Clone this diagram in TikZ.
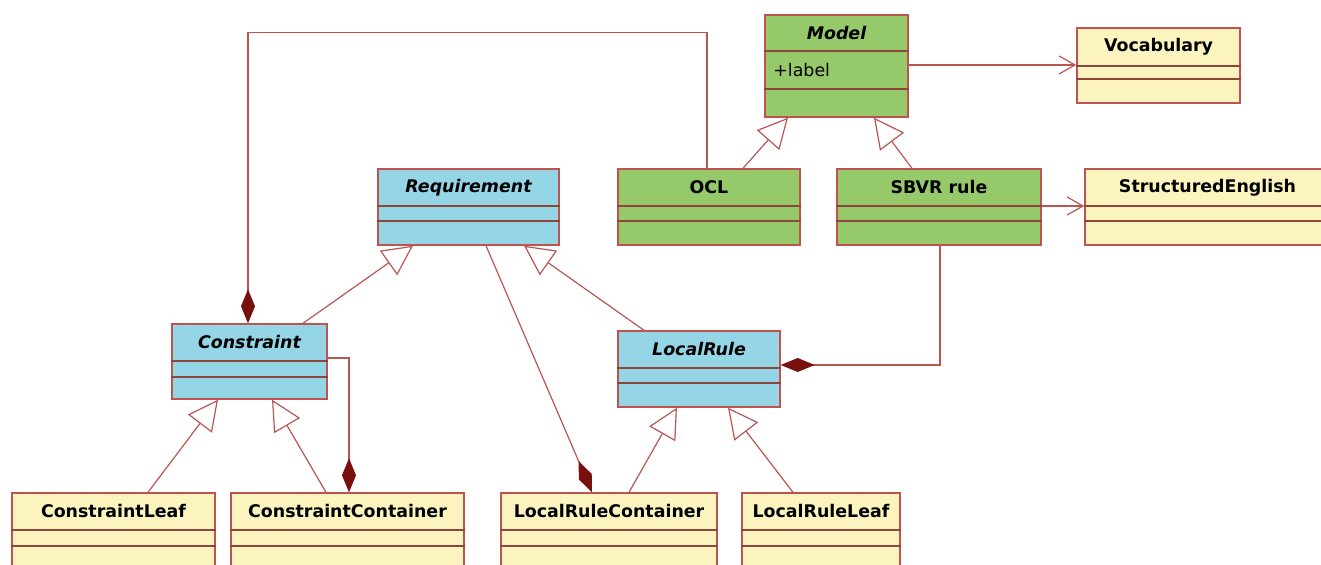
\documentclass[tikz,border=0pt]{standalone}
\usepackage{fontspec}
\setmainfont{DejaVu Sans}
\usetikzlibrary{arrows.meta,fit}

\definecolor{umlline}{RGB}{186,86,82}
\definecolor{umlborder}{RGB}{192,82,80}
\definecolor{umldivider}{RGB}{140,70,60}
\definecolor{umldiamond}{RGB}{120,16,16}
\definecolor{umlgreen}{RGB}{150,201,106}
\definecolor{umlblue}{RGB}{148,213,230}
\definecolor{umlyellow}{RGB}{251,244,190}

\tikzset{
  classbox/.style={draw=umlborder, line width=0.7pt, inner sep=0pt},
  classname/.style={font=\bfseries\fontsize{8.7}{10}\selectfont, inner sep=0pt},
  attribute/.style={font=\fontsize{8.7}{10}\selectfont, inner sep=0pt},
  divider/.style={draw=umldivider, line width=0.6pt},
  link/.style={draw=umlline, line width=0.6pt},
  generalize/.style={link, -{Triangle[length=15pt,width=15pt,fill=white]}},
  compose/.style={link, -{Diamond[length=17pt,width=7pt,color=umldiamond,fill=umldiamond]}},
  navigate/.style={link, -{Straight Barb[length=8pt,width=9pt]}},
}

% name, fill, title, x1, y1, x2, y2, first divider, second divider
\newcommand{\umlclass}[9]{%
  \node[classbox, fill=#2, fit={(#4,#5) (#6,#7)}] (#1) {};
  \node[classname] (#1-name) at ({(#4+#6)/2},{(#5+#8)/2}) {#3};
  \draw[divider] (#1.west |- 0,#8) -- (#1.east |- 0,#8);
  \draw[divider] (#1.west |- 0,#9) -- (#1.east |- 0,#9);
}

\begin{document}
\begin{tikzpicture}[x=0.5pt, y=-0.5pt]
    \useasboundingbox (0,0) rectangle (1321,565);
    \clip (0,0) rectangle (1321,565);

    % classes
    \umlclass{Model}{umlgreen}{\itshape Model}{765}{15}{908}{117}{51}{89}
    \node[attribute, anchor=west] (Model-label) at (773,70) {+label};
    \umlclass{Vocabulary}{umlyellow}{Vocabulary}{1077}{28}{1240}{103}{66}{79}
    \umlclass{Requirement}{umlblue}{\itshape Requirement}{378}{169}{559}{245}{206}{221}
    \umlclass{OCL}{umlgreen}{OCL}{618}{169}{800}{245}{206}{221}
    \umlclass{SBVR}{umlgreen}{SBVR rule}{837}{169}{1041}{245}{206}{221}
    \umlclass{StructuredEnglish}{umlyellow}{StructuredEnglish}{1085}{169}{1330}{245}{206}{221}
    \umlclass{Constraint}{umlblue}{\itshape Constraint}{172}{324}{327}{399}{361}{377}
    \umlclass{LocalRule}{umlblue}{\itshape LocalRule}{618}{331}{780}{407}{368}{383}
    \umlclass{ConstraintLeaf}{umlyellow}{ConstraintLeaf}{12}{493}{215}{580}{530}{546}
    \umlclass{ConstraintContainer}{umlyellow}{ConstraintContainer}{231}{493}{464}{580}{530}{546}
    \umlclass{LocalRuleContainer}{umlyellow}{LocalRuleContainer}{501}{493}{717}{580}{530}{546}
    \umlclass{LocalRuleLeaf}{umlyellow}{LocalRuleLeaf}{742}{493}{900}{580}{530}{546}

    % generalizations
    \draw[generalize] (OCL.north -| 743,0) -- (Model.south -| 788,0);
    \draw[generalize] (SBVR.north -| 912,0) -- (Model.south -| 874,0);
    \draw[generalize] (Constraint.north -| 303,0) -- (Requirement.south -| 413,0);
    \draw[generalize] (LocalRule.north -| 644,0) -- (Requirement.south -| 524,0);
    \draw[generalize] (ConstraintLeaf.north -| 148,0) -- (Constraint.south -| 218,0);
    \draw[generalize] (ConstraintContainer.north -| 326,0) -- (Constraint.south -| 272,0);
    \draw[generalize] (LocalRuleContainer.north -| 629,0) -- (LocalRule.south -| 677,0);
    \draw[generalize] (LocalRuleLeaf.north -| 793,0) -- (LocalRule.south -| 728,0);

    % compositions
    \draw[compose] (OCL.north -| 707,0) -- ++(0,-136) -| (Constraint.north -| 248,0);
    \draw[compose] (Constraint.east |- 0,358) -| (ConstraintContainer.north -| 349,0);
    \draw[compose] (Requirement.south -| 486,0) -- (LocalRuleContainer.north -| 592,0);
    \draw[compose] (SBVR.south -| 940,0) |- (LocalRule.east |- 0,365);

    % associations
    \draw[navigate] (Model.east |- 0,65) -- (Vocabulary.west |- 0,65);
    \draw[navigate] (SBVR.east |- 0,206) -- (StructuredEnglish.west |- 0,206);
\end{tikzpicture}
\end{document}
